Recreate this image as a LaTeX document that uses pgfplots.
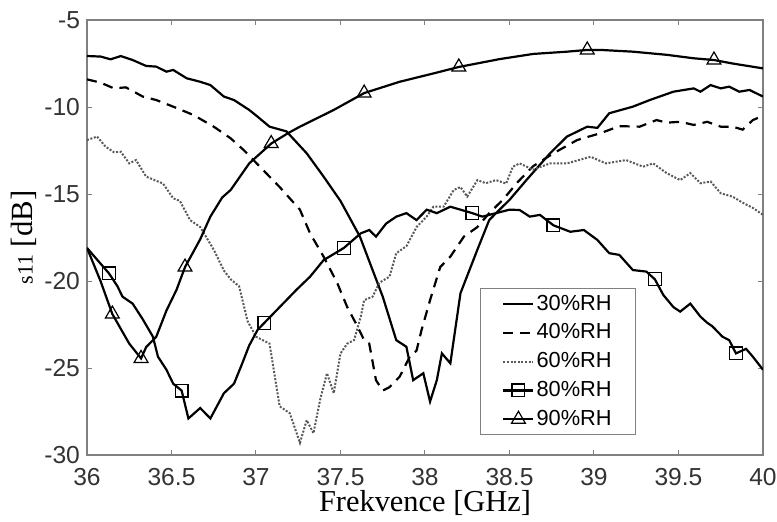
\documentclass[border=0pt]{standalone}
\usepackage{pgfplots}
\pgfplotsset{compat=1.18}
\usepackage{fontspec}
\setmainfont{Liberation Sans}
\newfontfamily\seriffont{Liberation Serif}
\begin{document}
\begin{tikzpicture}
\path[use as bounding box] (-43.5pt,-33pt) rectangle (345pt,227.5pt);
\begin{axis}[
  at={(0,0)}, anchor=south west,
  scale only axis, width=338pt, height=217.5pt,
  xmin=36, xmax=40, ymin=-30, ymax=-5,
  xtick={36,36.5,...,40}, ytick={-30,-25,...,-5},
  tick align=inside, major tick length=2.5pt,
  axis line style={gray, line width=0.6pt},
  every tick/.style={gray, line width=0.5pt},
  tick label style={font=\fontsize{12.3}{14}\selectfont, text=black!80},
  xticklabel style={yshift=-3pt},
  /pgf/number format/assume math mode=true,
  xlabel={\seriffont\fontsize{15.2}{17}\selectfont Frekvence [GHz]},
  ylabel={\seriffont\fontsize{15.4}{17}\selectfont {\fontsize{11}{12}\selectfont s11} [dB]},
  xlabel style={yshift=4.5pt},
  ylabel style={yshift=-3pt},
  legend image code/.code={\draw[mark repeat=2,mark phase=2,#1] plot coordinates {(0pt,0pt) (7.5pt,0pt) (15pt,0pt)};},
  legend style={at={(0.581,0.046)}, anchor=south west, draw=gray, line width=0.6pt,
    font=\fontsize{10.9}{12}\selectfont, fill=white, inner xsep=11pt, inner ysep=2pt,
    row sep=3.3pt, nodes={inner sep=1pt, text depth=0.15em}},
  legend cell align=left,
]
\addplot[black, line width=1.1pt] table {
36.00 -7.07
36.08 -7.10
36.14 -7.26
36.20 -7.07
36.27 -7.30
36.35 -7.64
36.41 -7.68
36.47 -7.97
36.51 -7.87
36.59 -8.35
36.67 -8.55
36.73 -8.74
36.81 -9.40
36.87 -9.60
36.96 -10.17
37.01 -10.56
37.08 -11.13
37.18 -11.40
37.30 -12.66
37.40 -14.00
37.50 -15.40
37.615 -17.45
37.69 -19.37
37.75 -20.90
37.83 -23.40
37.89 -23.78
37.93 -25.70
37.99 -25.30
38.03 -26.93
38.07 -25.70
38.10 -24.16
38.15 -24.73
38.21 -20.70
38.31 -18.20
38.38 -16.50
38.42 -16.10
38.50 -15.34
38.60 -14.20
38.74 -12.66
38.84 -11.70
38.96 -11.13
39.02 -11.20
39.09 -10.36
39.23 -9.98
39.33 -9.60
39.47 -9.12
39.59 -8.93
39.63 -9.12
39.69 -8.74
39.75 -8.93
39.80 -8.83
39.86 -9.12
39.92 -9.02
40.00 -9.40
};
\addlegendentry{30\%RH}
\addplot[black, line width=1.1pt, dash pattern=on 5pt off 3.5pt] table {
36.00 -8.41
36.08 -8.60
36.16 -8.93
36.23 -8.87
36.33 -9.40
36.41 -9.60
36.51 -9.98
36.63 -10.46
36.75 -11.13
36.85 -11.80
36.93 -12.50
37.02 -13.40
37.14 -14.60
37.26 -15.90
37.32 -17.26
37.40 -18.60
37.48 -20.10
37.54 -21.50
37.60 -22.60
37.64 -23.40
37.67 -23.60
37.71 -25.70
37.75 -26.30
37.79 -26.10
37.85 -25.50
37.91 -24.35
37.95 -24.00
37.98 -22.80
38.03 -21.10
38.09 -19.20
38.15 -18.60
38.23 -17.45
38.31 -16.90
38.38 -16.10
38.46 -15.34
38.55 -14.30
38.64 -13.40
38.76 -12.66
38.90 -11.90
39.04 -11.50
39.15 -11.10
39.27 -11.13
39.37 -10.75
39.43 -10.90
39.51 -10.85
39.59 -11.03
39.67 -10.85
39.75 -11.13
39.82 -11.13
39.88 -11.30
39.94 -10.75
40.00 -10.50
};
\addlegendentry{40\%RH}
\addplot[black!65, line width=1pt, dash pattern=on 1pt off 0.8pt] table {
36.00 -11.90
36.06 -11.70
36.11 -12.28
36.16 -12.60
36.20 -12.57
36.25 -13.24
36.29 -13.05
36.35 -14.00
36.45 -14.40
36.51 -15.25
36.55 -15.40
36.61 -16.50
36.67 -16.90
36.75 -18.20
36.81 -19.40
36.85 -19.90
36.90 -20.30
36.95 -22.30
37.00 -23.20
37.04 -23.40
37.08 -23.60
37.14 -27.20
37.20 -27.60
37.26 -29.30
37.30 -28.00
37.34 -28.75
37.38 -26.80
37.42 -25.30
37.46 -26.45
37.50 -24.16
37.54 -23.60
37.58 -23.40
37.62 -22.05
37.64 -21.10
37.69 -20.90
37.73 -20.10
37.79 -19.75
37.83 -18.40
37.89 -18.00
37.95 -16.90
38.01 -16.30
38.05 -15.73
38.11 -15.73
38.17 -14.77
38.21 -14.60
38.25 -15.15
38.31 -14.20
38.36 -14.38
38.42 -14.20
38.48 -14.40
38.52 -13.43
38.56 -13.24
38.64 -13.60
38.74 -13.24
38.84 -13.24
38.98 -12.86
39.07 -13.24
39.19 -13.05
39.29 -13.43
39.35 -13.24
39.43 -13.80
39.51 -14.20
39.57 -13.80
39.63 -14.38
39.69 -14.28
39.75 -14.96
39.82 -15.15
39.88 -15.50
39.94 -15.80
40.00 -16.20
};
\addlegendentry{60\%RH}
\addplot[black, line width=1.1pt, legend image post style={mark=square, mark size=3.2pt, mark options={solid, line width=0.6pt}}] table {
36.00 -18.10
36.08 -19.00
36.13 -19.56
36.18 -20.30
36.21 -20.90
36.27 -21.30
36.33 -22.20
36.39 -23.20
36.42 -24.35
36.47 -25.10
36.51 -25.90
36.56 -26.30
36.60 -27.90
36.67 -27.30
36.73 -27.90
36.81 -26.45
36.87 -25.90
36.92 -24.70
36.96 -23.70
37.01 -22.80
37.05 -22.40
37.14 -21.50
37.24 -20.50
37.32 -19.75
37.40 -18.80
37.52 -18.10
37.62 -17.26
37.67 -17.07
37.71 -17.45
37.77 -16.70
37.83 -16.30
37.89 -16.10
37.95 -16.50
38.01 -15.90
38.07 -16.10
38.15 -15.73
38.21 -15.90
38.28 -16.10
38.34 -16.30
38.42 -16.10
38.50 -15.90
38.56 -15.92
38.62 -16.30
38.68 -16.20
38.76 -16.80
38.86 -17.17
38.94 -17.07
39.02 -17.64
39.09 -18.40
39.15 -18.50
39.23 -19.37
39.31 -19.46
39.36 -19.90
39.41 -20.80
39.47 -21.50
39.51 -21.76
39.57 -21.30
39.63 -22.05
39.67 -22.40
39.70 -22.60
39.76 -23.20
39.80 -23.40
39.84 -24.16
39.90 -23.90
39.94 -24.35
40.00 -25.10
};
\addlegendentry{80\%RH}
\addplot[black, line width=1.1pt, legend image post style={mark=triangle, mark size=4pt, mark options={solid, line width=0.6pt}}] table {
36.00 -18.10
36.08 -20.00
36.15 -21.90
36.25 -23.60
36.32 -24.45
36.35 -23.80
36.41 -23.20
36.47 -21.70
36.53 -20.50
36.58 -19.20
36.67 -17.60
36.73 -16.30
36.80 -15.20
36.85 -14.77
36.96 -13.24
37.09 -12.10
37.19 -11.50
37.26 -11.13
37.46 -10.17
37.64 -9.20
37.85 -8.55
38.05 -8.07
38.20 -7.70
38.44 -7.25
38.64 -6.95
38.84 -6.82
38.96 -6.72
39.04 -6.72
39.23 -6.82
39.43 -7.00
39.59 -7.20
39.71 -7.30
39.82 -7.50
40.00 -7.78
};
\addlegendentry{90\%RH}
\addplot[only marks, black, mark=square, mark size=3.2pt, mark options={line width=0.6pt}, forget plot] coordinates {
(36.13,-19.56) (36.56,-26.30) (37.05,-22.40) (37.52,-18.10) (38.28,-16.10) (38.76,-16.80) (39.36,-19.90) (39.84,-24.16)
};
\addplot[only marks, black, mark=triangle, mark size=4pt, mark options={line width=0.6pt}, forget plot] coordinates {
(36.15,-21.90) (36.32,-24.45) (36.58,-19.20) (37.09,-12.10) (37.64,-9.20) (38.20,-7.70) (38.96,-6.72) (39.71,-7.30)
};
\end{axis}
\end{tikzpicture}
\end{document}
